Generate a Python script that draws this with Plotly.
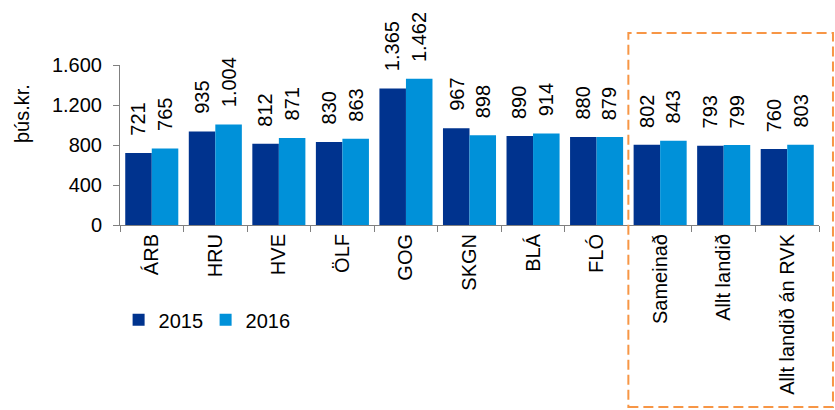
import plotly.graph_objects as go

categories = ["ÁRB", "HRU", "HVE", "ÖLF", "GOG", "SKGN", "BLÁ", "FLÓ",
              "Sameinað", "Allt landið", "Allt landið án RVK"]
series_names = ["2015", "2016"]
values_2015 = [721, 935, 812, 830, 1365, 967, 890, 880, 802, 793, 760]
values_2016 = [765, 1004, 871, 863, 1462, 898, 914, 879, 843, 799, 803]
y_tickvals = [0, 400, 800, 1200, 1600]
y_title = "þús.kr."

colors = ["#00338E", "#0091D9"]
FONT = "Liberation Sans, Arial, sans-serif"
FS = 20


def fmt(v):
    return f"{v:,}".replace(",", ".")


def text_w(s):
    # approximate Arial advance widths
    return sum((0.278 if ch == "." else 0.556) * FS for ch in s)


fig = go.Figure()
for name, vals, col in zip(series_names, [values_2015, values_2016], colors):
    fig.add_trace(go.Bar(
        x=categories, y=vals, name=name,
        marker=dict(color=col, line=dict(width=0)),
    ))

annotations = []
for vals, shift in [(values_2015, -13.3), (values_2016, 13.3)]:
    for c, v in zip(categories, vals):
        s = fmt(v)
        annotations.append(dict(
            x=c, y=v, xref="x", yref="y", text=s, showarrow=False,
            textangle=-90, xanchor="center", yanchor="middle",
            xshift=shift, yshift=17 + text_w(s) / 2,
            font=dict(family=FONT, size=FS, color="#000000"),
        ))

annotations.append(dict(
    x=-0.14, y=0.694, xref="paper", yref="paper", text=y_title,
    showarrow=False, textangle=-90, xanchor="center", yanchor="middle",
    font=dict(family=FONT, size=FS, color="#000000"),
))

fig.update_layout(
    template="none",
    width=835, height=410,
    margin=dict(l=120, r=16, t=65, b=185, autoexpand=False),
    paper_bgcolor="white", plot_bgcolor="white",
    barmode="group", bargap=0.165, bargroupgap=0,
    separators=",.",
    font=dict(family=FONT, size=FS, color="#000000"),
    showlegend=True,
    legend=dict(orientation="h", x=-0.002, y=-0.47, xanchor="left",
                yanchor="top", font=dict(family=FONT, size=FS),
                itemwidth=30, entrywidth=42, tracegroupgap=0,
                bgcolor="rgba(0,0,0,0)"),
    annotations=annotations,
    shapes=[dict(
        type="rect", xref="paper", yref="paper",
        x0=8 / 11, x1=1.02, y0=-1.1375, y1=1.2,
        line=dict(color="#F79646", width=2, dash="10px,5px"),
        fillcolor="rgba(0,0,0,0)", layer="above",
    )],
)

fig.update_xaxes(
    type="category", tickangle=-90, showgrid=False, automargin=False,
    showline=True, linecolor="#808080", linewidth=1,
    ticks="outside", tickson="boundaries", ticklen=6, tickcolor="#808080",
    tickfont=dict(family=FONT, size=FS, color="#000000"),
)
fig.update_yaxes(
    range=[0, 1600], tickvals=y_tickvals, tickformat=",d", showgrid=False,
    automargin=False, ticklabelstandoff=7,
    showline=True, linecolor="#808080", linewidth=1, zeroline=False,
    ticks="outside", ticklen=6, tickcolor="#808080",
    tickfont=dict(family=FONT, size=FS, color="#000000"),
)

fig.write_html("out.html", config={"displayModeBar": False},
               post_script="document.body.style.margin='0';")
